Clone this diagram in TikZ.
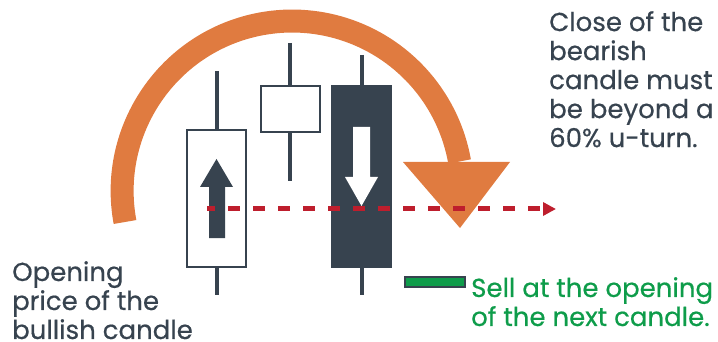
\documentclass[tikz,border=0pt]{standalone}
\usepackage{fontspec}
\setmainfont{Poppins}[FakeBold=0.5]
\usepackage{tikz}
\usetikzlibrary{arrows.meta}

\definecolor{slate}{HTML}{37434F}
\definecolor{uturn}{HTML}{E07B40}
\definecolor{entry}{HTML}{BE1E2D}
\definecolor{sellgreen}{HTML}{0E9C4A}

\begin{document}
\begin{tikzpicture}[
		x=1pt, y=-1pt
		,every node/.style={inner sep=0pt, align=left, anchor=north west, font=\fontsize{26}{29}\selectfont}
		,wick/.style={slate, line width=3.5pt}
		,hollowbody/.style={draw=slate, fill=white, line width=2.5pt}
		,solidbody/.style={fill=slate}
		,note/.style={text=slate}
	]
		\useasboundingbox (0,0) rectangle (718,342);

		% u-turn arrow
		\draw[uturn, line width=23pt] (125,222) arc[start angle=169.5, end angle=350, radius=170];
		\fill[uturn] (403,162) -- (510,162) -- (460,228) -- cycle;

		% bullish candle
		\draw[wick] (217,71) -- (217,295);
		\draw[hollowbody] (187,130) rectangle (246,267);
		\fill[slate] (209,238) -- (225,238) -- (225,187) -- (233,187) -- (216.5,159) -- (200,187) -- (209,187) -- cycle;

		% middle candle
		\draw[wick] (290,43) -- (290,181);
		\draw[hollowbody] (261,86) rectangle (320,132);

		% bearish candle
		\draw[wick] (362,55) -- (362,295);
		\fill[solidbody] (331,85) rectangle (392,268);
		\fill[white] (353,127) -- (370,127) -- (370,177) -- (378,177) -- (361.5,206) -- (345,177) -- (353,177) -- cycle;

		% opening level
		\draw[entry, line width=5pt, dash pattern=on 12pt off 13pt, dash phase=4pt, -{Triangle[length=13pt, width=13pt]}] (207,209) -- (556,209);

		% sell marker
		\draw[draw=slate, fill=sellgreen, line width=2pt] (405,277) rectangle (465,287);

		\node[note] (close) at (549,11) {Close of the\\bearish\\candle must\\be beyond a\\60\% u-turn.};
		\node[note] (open) at (12,261) {Opening\\price of the\\bullish candle};
		\node[text=sellgreen] (sell) at (471,277) {Sell at the opening\\of the next candle.};
	\end{tikzpicture}
\end{document}
